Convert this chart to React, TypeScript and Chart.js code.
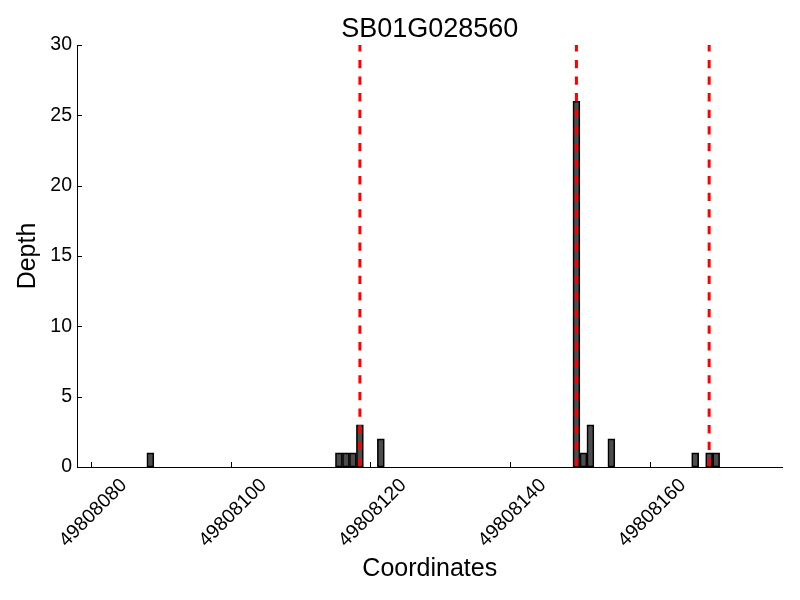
import React, { useEffect, useRef } from "react";
import { Chart, registerables } from "chart.js";

Chart.register(...registerables);

const FONT = '"Liberation Sans", Arial, Helvetica, sans-serif';

const chartTitle = "SB01G028560";
const xLabel = "Coordinates";
const yLabel = "Depth";

// Bin start coordinates (each bin is 1 bp wide) and read depth
const positions = [
  49808088, 49808115, 49808116, 49808117, 49808118, 49808121,
  49808149, 49808150, 49808151, 49808154, 49808166, 49808168, 49808169,
];
const depths = [1, 1, 1, 1, 3, 2, 26, 1, 3, 2, 1, 1, 1];

// Red dashed marker positions
const markers = [49808118.5, 49808149.5, 49808168.5];

const xTicks = [49808080, 49808100, 49808120, 49808140, 49808160];
const yTicks = [0, 5, 10, 15, 20, 25, 30];
const xMin = 49808078;
const xMax = 49808179;
const yMin = 0;
const yMax = 30;

const decorPlugin = {
  id: "decor",
  afterDraw(chart: any) {
    const { ctx, chartArea, scales } = chart;
    const { left, right, top, bottom } = chartArea;
    ctx.save();
    ctx.strokeStyle = "#000";
    ctx.lineWidth = 1;
    ctx.beginPath();
    xTicks.forEach((v) => {
      const px = Math.round(scales.x.getPixelForValue(v)) + 0.5;
      ctx.moveTo(px, bottom);
      ctx.lineTo(px, bottom - 5);
    });
    yTicks.forEach((v) => {
      const py = Math.round(scales.y.getPixelForValue(v)) + 0.5;
      ctx.moveTo(left, py);
      ctx.lineTo(left + 5, py);
    });
    ctx.stroke();

    ctx.fillStyle = "#000";
    const cx = (left + right) / 2;
    ctx.textAlign = "center";
    ctx.textBaseline = "alphabetic";
    ctx.font = `27px ${FONT}`;
    ctx.fillText(chartTitle, cx, 37);

    ctx.font = `25px ${FONT}`;
    ctx.fillText(xLabel, cx, 576);

    ctx.translate(35, (top + bottom) / 2);
    ctx.rotate(-Math.PI / 2);
    ctx.fillText(yLabel, 0, 0);
    ctx.restore();
  },
};

export default function App() {
  const ref = useRef<HTMLCanvasElement | null>(null);

  useEffect(() => {
    if (!ref.current) return;
    const barData = positions.map((p, i) => ({ x: p + 0.5, y: depths[i] }));
    const lineSets = markers.map((m) => ({
      type: "line" as const,
      data: [
        { x: m, y: yMax },
        { x: m, y: yMin },
      ],
      borderColor: "#ff0000",
      borderWidth: 3,
      borderDash: [8.3, 8.3],
      borderDashOffset: 1.7,
      pointRadius: 0,
      fill: false,
      order: 0,
    }));

    const chart = new Chart(ref.current, {
      type: "bar",
      data: {
        datasets: [
          {
            type: "bar",
            data: barData,
            backgroundColor: "rgba(0,0,0,0.7)",
            borderColor: "#000",
            borderWidth: 1,
            borderSkipped: false,
            categoryPercentage: 1,
            barPercentage: 1,
            order: 1,
          } as any,
          ...(lineSets as any[]),
        ],
      },
      options: {
        animation: false,
        responsive: false,
        maintainAspectRatio: false,
        layout: { padding: { top: 45, right: 17.5, left: 0, bottom: 0 } },
        plugins: {
          legend: { display: false },
          tooltip: { enabled: false },
          title: { display: false },
        },
        scales: {
          x: {
            type: "linear",
            min: xMin,
            max: xMax,
            offset: false,
            grid: { display: false, drawTicks: false },
            border: { display: true, color: "#000", width: 1 },
            ticks: {
              color: "#000",
              font: { family: FONT, size: 19.5 },
              minRotation: 45,
              maxRotation: 45,
              autoSkip: false,
              padding: 7,
              labelOffset: 33,
              callback: (v: any) => String(v),
            },
            afterBuildTicks: (s: any) => {
              s.ticks = xTicks.map((v) => ({ value: v }));
            },
            afterFit: (s: any) => {
              s.height = 133;
            },
          },
          y: {
            type: "linear",
            min: yMin,
            max: yMax,
            grid: { display: false, drawTicks: false },
            border: { display: true, color: "#000", width: 1 },
            ticks: {
              color: "#000",
              font: { family: FONT, size: 19.5 },
              padding: 5,
              autoSkip: false,
              callback: (v: any) => String(v),
            },
            afterBuildTicks: (s: any) => {
              s.ticks = yTicks.map((v) => ({ value: v }));
            },
            afterFit: (s: any) => {
              s.width = 77;
            },
          },
        },
      } as any,
      plugins: [decorPlugin],
    });
    return () => chart.destroy();
  }, []);

  return (
    <div style={{ position: "absolute", left: 0, top: 0, width: 800, height: 600, background: "#fff" }}>
      <canvas ref={ref} width={800} height={600} style={{ display: "block" }} />
    </div>
  );
}
